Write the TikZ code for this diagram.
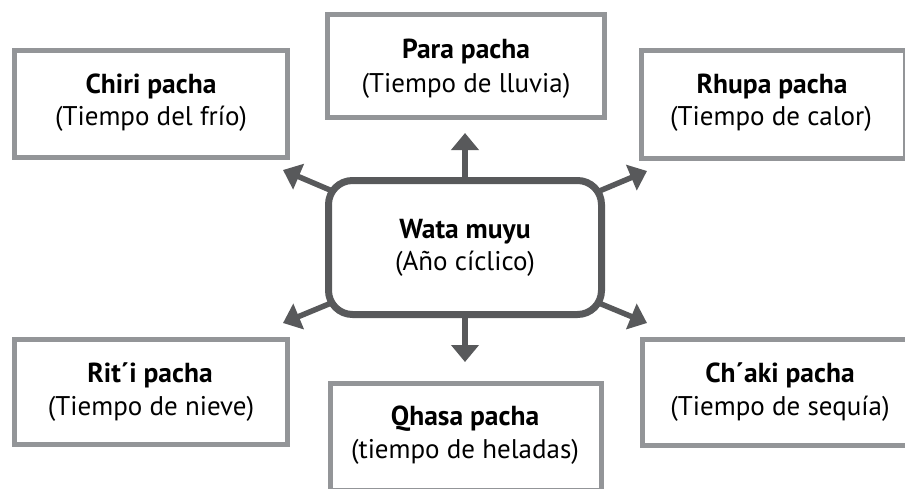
\documentclass[tikz,border=0pt]{standalone}
\usepackage{fontspec}
\setmainfont{PT Sans}
\usetikzlibrary{arrows.meta,backgrounds}
\definecolor{boxgray}{RGB}{147,149,152}
\definecolor{arrowgray}{RGB}{88,89,91}
\begin{document}
\begin{tikzpicture}[x=1pt,y=-1pt,
  season/.style={draw=boxgray,line width=5pt,fill=white,inner sep=0pt,outer sep=0pt,
    minimum width=273pt,minimum height=107pt},
  hub/.style={draw=arrowgray,line width=7pt,fill=white,rounded corners=24pt,inner sep=0pt,
    outer sep=0pt,minimum width=273pt,minimum height=134pt},
  ttl/.style={anchor=base,inner sep=0pt,font=\bfseries\fontsize{27.5}{27.5}\selectfont},
  sub/.style={anchor=base,inner sep=0pt,font=\fontsize{27}{27}\selectfont},
  conn/.style={draw=arrowgray,line width=5.5pt,-{Triangle[length=17pt,width=27pt]}}]
\useasboundingbox (0,0) rectangle (905,488);
\clip (0,0) rectangle (905,488);
% boxes
\node[season] (chiri) at (151,104) {};
\node[season,minimum width=277pt,minimum height=103pt] (para) at (466,66) {};
\node[season,minimum width=264pt,minimum height=108pt] (rhupa) at (773.5,104.5) {};
\node[season,minimum height=105pt] (riti) at (151,392) {};
\node[season,minimum width=278pt,minimum height=106pt] (chaki) at (781.5,392) {};
\node[season,minimum width=271pt] (qhasa) at (466,436.5) {};
\node[hub] (ctr) at (465,247.5) {};
% texts
\node[ttl] (t1) at (151,93) {Chiri pacha};
\node[sub] (s1) at (151,125) {(Tiempo del frío)};
\node[ttl] (t2) at (466,58) {Para pacha};
\node[sub] (s2) at (466,92) {(Tiempo de lluvia)};
\node[ttl] (t3) at (772,93) {Rhupa pacha};
\node[sub] (s3) at (771,125) {(Tiempo de calor)};
\node[ttl] (t4) at (150,382) {Rit´i pacha};
\node[sub] (s4) at (151,415) {(Tiempo de nieve)};
\node[ttl] (t5) at (780,382) {Ch´aki pacha};
\node[sub] (s5) at (780,415) {(Tiempo de sequía)};
\node[ttl] (t6) at (465,425) {Qhasa pacha};
\node[sub] (s6) at (465,458) {(tiempo de heladas)};
\node[ttl] (t0) at (465,238) {Wata muyu};
\node[sub] (s0) at (465,270) {(Año cíclico)};
% arrow tips
\coordinate (up) at (465,133);
\coordinate (dn) at (465,362);
\coordinate (ul) at (283,170);
\coordinate (ur) at (647,171);
\coordinate (ll) at (283,323);
\coordinate (lr) at (647,323);
\begin{pgfonlayer}{background}
\foreach \t in {up,dn,ul,ur,ll,lr} \draw[conn] (ctr.center) -- (\t);
\end{pgfonlayer}
\end{tikzpicture}
\end{document}
